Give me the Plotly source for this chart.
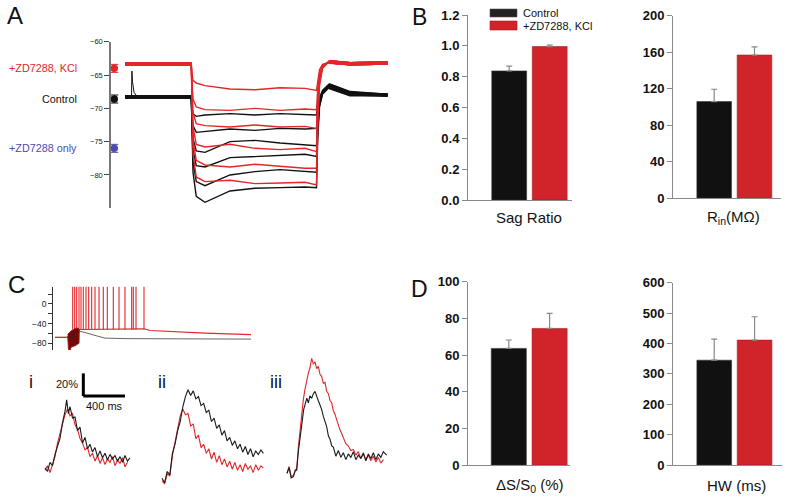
import plotly.graph_objects as go

W, H = 800, 497
FONT = "Arial, 'Liberation Sans', Helvetica, sans-serif"
RED = "#e2262a"
BAR_RED = "#d1232a"
BLUE = "#4b4bb0"
BLK = "#111111"

# ---------------- Panel A data (membrane potential, mV; time, ms) ----------------
A_t = [0, 265, 268, 272, 285, 320, 420, 520, 620, 720, 766, 771, 778, 790, 815, 900, 1050]
A_red = [
    [-63.3, -63.3, -64.8, -65.8, -66.2, -66.6, -67.1, -67.2, -66.9, -67.0, -67.3, -65.6, -64.2, -63.4, -63.1, -63.3, -63.2],
    [-63.3, -63.3, -66.0, -68.6, -69.8, -70.2, -70.3, -70.0, -70.3, -70.1, -70.2, -67.0, -64.8, -63.6, -63.0, -63.3, -63.2],
    [-63.3, -63.3, -66.8, -70.6, -72.3, -72.6, -72.8, -72.5, -72.8, -72.7, -73.0, -68.5, -65.3, -63.7, -63.0, -63.3, -63.2],
    [-63.3, -63.3, -67.6, -72.8, -75.4, -75.8, -75.4, -76.0, -76.2, -76.0, -76.5, -70.0, -65.8, -63.8, -63.0, -63.3, -63.2],
    [-63.3, -63.3, -68.3, -74.8, -77.8, -78.5, -78.8, -78.4, -78.7, -79.0, -79.0, -71.3, -66.2, -63.9, -63.0, -63.3, -63.2],
    [-63.3, -63.3, -69.0, -76.8, -80.3, -81.0, -80.8, -81.3, -81.2, -81.1, -81.5, -72.6, -66.6, -64.0, -63.0, -63.3, -63.2],
]
A_black = [
    [-68.3, -68.3, -69.8, -70.8, -71.2, -71.0, -70.8, -71.0, -70.8, -70.9, -71.0, -69.6, -68.4, -67.3, -66.4, -67.6, -68.0],
    [-68.3, -68.3, -70.4, -72.6, -73.6, -73.5, -73.1, -73.3, -73.0, -73.1, -73.0, -70.6, -68.8, -67.5, -66.5, -67.7, -68.0],
    [-68.3, -68.3, -71.0, -74.5, -76.4, -76.6, -75.0, -74.8, -75.2, -75.4, -75.6, -71.6, -69.0, -67.6, -66.6, -67.8, -68.0],
    [-68.3, -68.3, -71.6, -76.2, -78.6, -78.8, -77.4, -77.2, -77.0, -76.9, -77.2, -72.4, -69.2, -67.7, -66.7, -67.9, -68.0],
    [-68.3, -68.3, -72.2, -78.0, -81.0, -81.6, -80.0, -79.5, -79.2, -79.5, -79.6, -73.4, -69.5, -67.8, -66.8, -67.9, -68.0],
    [-68.3, -68.3, -72.8, -79.6, -83.2, -84.1, -82.4, -82.0, -81.9, -81.8, -81.9, -74.5, -69.8, -67.9, -66.9, -68.0, -68.0],
]
A_spike_t = [20, 26, 27.5, 30, 36, 50]
A_spike_v = [-68.3, -68.3, -64.4, -66.0, -67.6, -68.3]
A_rest_labels = ["+ZD7288, KCl", "Control", "+ZD7288 only"]
A_rest_mean = [-64.0, -68.6, -76.0]
A_rest_err = [0.6, 0.6, 0.6]
A_rest_colors = [RED, BLK, BLUE]
A_yticks = [-80, -75, -70, -65, -60]

# ---------------- Panel B / D data ----------------
groups = ["Control", "+ZD7288, KCl"]
sag_mean = [0.837, 0.995]
sag_err = [0.032, 0.01]
rin_mean = [106, 157]
rin_err = [13.5, 9]
dss_mean = [63.6, 74.5]
dss_err = [4.6, 8.2]
hw_mean = [345, 411]
hw_err = [69, 77]

# ---------------- Panel C data ----------------
C_black_t = [0, 125, 230, 300, 400, 500, 700, 1960]
C_black_v = [-68, -68, -55, -58, -64, -69.5, -70.5, -71.5]
C_red_t = [0, 125, 230, 300, 500, 700, 890, 950, 1200, 1500, 1960]
C_red_v = [-68, -68, -52, -52, -51, -51.5, -50.5, -54, -57, -59.5, -62.5]
C_spike_times = [177, 197, 217, 240, 260, 283, 310, 337, 367, 400, 440, 483, 523, 583, 640, 700, 767, 783, 810, 890]
C_spike_foot = -52
C_spike_peak = 37
C_stim_t = [127, 135, 150, 160, 200, 240, 243, 230, 200, 160, 127]
C_stim_v = [-65, -93, -95, -88, -85, -80, -52, -49, -50, -55, -62]

# fluorescence transients (time ms, dF %)
i_blk_t = [0, 24, 48, 72, 96, 120, 144, 168, 192, 208, 224, 240, 264, 288, 312, 336, 360, 384, 408, 432,
           456, 480, 504, 528, 552, 576, 600, 624, 648, 672, 696, 720, 744, 768, 792, 816]
i_blk_v = [0, -3, 5, 2, 12, 20, 26, 40, 50, 60, 48, 54, 44, 45, 33, 36, 22, 27, 17, 21,
           14, 18, 10, 15, 9, 13, 7, 12, 8, 11, 6, 10, 5, 11, 6, 9]
i_red_t = [0, 24, 48, 72, 96, 120, 144, 168, 192, 216, 240, 264, 288, 312, 336, 360, 384, 408, 432, 456,
           480, 504, 528, 552, 576, 600, 624, 648, 672, 696, 720, 744, 768, 792]
i_red_v = [-2, 2, -4, 4, 10, 22, 30, 40, 47, 52, 46, 48, 38, 34, 26, 22, 16, 18, 10, 13,
           6, 11, 4, 9, 3, 8, 5, 10, 2, 7, 4, 9, 1, 5]
ii_t = [0, 25, 50, 75, 100, 125, 150, 175, 200, 225, 250, 275, 300, 325, 350, 375, 400, 425, 450, 475,
        500, 525, 550, 575, 600, 625, 650, 675, 700, 725, 750, 775, 800, 825, 850, 875, 900, 925, 950, 973]
ii_blk_v = [0, -4, 6, 3, 22, 30, 42, 50, 63, 72, 78, 73, 77, 70, 72, 64, 66, 58, 60, 50,
            53, 44, 47, 38, 42, 33, 36, 29, 33, 26, 30, 23, 28, 21, 26, 19, 24, 21, 25, 22]
ii_red_v = [-2, -5, 4, 2, 20, 32, 44, 55, 61, 56, 57, 46, 48, 35, 38, 27, 30, 22, 26, 17,
            23, 14, 20, 12, 17, 10, 15, 8, 14, 7, 12, 6, 13, 8, 11, 5, 12, 7, 11, 9]
iii_blk_t = [0, 20, 40, 61, 80, 93, 110, 125, 145, 160, 175, 190, 205, 220, 237, 253, 269, 285, 300, 317,
             333, 349, 365, 381, 397, 413, 429, 445, 469, 493, 517, 541, 565, 589, 613, 637, 661, 685, 709, 733,
             757, 781, 805, 829, 853, 877, 901, 925, 957]
iii_blk_v = [0, 5, -4, -3, 3, 3, 20, 29, 45, 56, 60, 66, 62, 68, 66, 70, 72, 67, 64, 60,
             56, 50, 45, 41, 33, 30, 24, 23, 15, 20, 14, 18, 12, 17, 14, 19, 12, 16, 13, 18,
             11, 17, 13, 18, 12, 17, 14, 19, 16]
iii_red_t = [0, 20, 40, 61, 80, 93, 109, 125, 141, 157, 173, 189, 205, 221, 237, 253, 269, 285, 301, 317,
             333, 349, 365, 381, 397, 413, 429, 445, 461, 477, 493, 509, 525, 541, 565, 589, 613, 637, 661, 685,
             709, 733, 757, 781, 805, 829, 853, 877, 901, 925]
iii_red_v = [0, 6, -3, -2, 2, 3, 23, 38, 55, 65, 74, 82, 88, 93, 101, 96, 98, 92, 94, 87,
             85, 79, 80, 72, 70, 64, 62, 55, 52, 47, 42, 38, 35, 32, 26, 24, 20, 21, 16, 19,
             13, 17, 12, 16, 11, 15, 10, 14, 9, 12]
scale_t, scale_pct = 400, 20


def xdom(a, b):
    return [a / W, b / W]


def ydom(top, bot):
    return [1 - bot / H, 1 - top / H]


fig = go.Figure()

# ---- Panel A traces ----
for v in A_black:
    fig.add_trace(go.Scatter(x=A_t, y=v, mode="lines", line=dict(color=BLK, width=1.4),
                             xaxis="x", yaxis="y", hoverinfo="skip", showlegend=False))
    fig.add_trace(go.Scatter(x=A_t[:2], y=v[:2], mode="lines", line=dict(color=BLK, width=3),
                             xaxis="x", yaxis="y", hoverinfo="skip", showlegend=False))
    fig.add_trace(go.Scatter(x=A_t[-3:], y=v[-3:], mode="lines", line=dict(color=BLK, width=3),
                             xaxis="x", yaxis="y", hoverinfo="skip", showlegend=False))
fig.add_trace(go.Scatter(x=A_spike_t, y=A_spike_v, mode="lines", line=dict(color=BLK, width=1),
                         xaxis="x", yaxis="y", hoverinfo="skip", showlegend=False))
for v in A_red:
    fig.add_trace(go.Scatter(x=A_t, y=v, mode="lines", line=dict(color=RED, width=1.4),
                             xaxis="x", yaxis="y", hoverinfo="skip", showlegend=False))
    fig.add_trace(go.Scatter(x=A_t[:2], y=v[:2], mode="lines", line=dict(color=RED, width=3.5),
                             xaxis="x", yaxis="y", hoverinfo="skip", showlegend=False))
    fig.add_trace(go.Scatter(x=A_t[-3:], y=v[-3:], mode="lines", line=dict(color=RED, width=3.5),
                             xaxis="x", yaxis="y", hoverinfo="skip", showlegend=False))

DOT_T = -43
for m, e, c in zip(A_rest_mean, A_rest_err, A_rest_colors):
    fig.add_trace(go.Scatter(x=[DOT_T], y=[m], mode="markers",
                             marker=dict(color=c, size=7.5, symbol="circle"),
                             error_y=dict(type="data", array=[e], color=c, thickness=1, width=4),
                             xaxis="x", yaxis="y", hoverinfo="skip", showlegend=False))

# ---- Panel B & D bars ----
def bars(ax, mean, err):
    fig.add_trace(go.Bar(x=groups, y=mean, width=[0.86, 0.86],
                         marker=dict(color=[BLK, BAR_RED], line=dict(color=["#333", "#a81a20"], width=0.6)),
                         error_y=dict(type="data", array=err, arrayminus=[0, 0], symmetric=False,
                                      color="#888", thickness=1.2, width=3),
                         xaxis="x" + ax, yaxis="y" + ax, hoverinfo="skip", showlegend=False))

bars("2", sag_mean, sag_err)
bars("3", rin_mean, rin_err)
bars("8", dss_mean, dss_err)
bars("9", hw_mean, hw_err)

# ---- Panel C voltage ----
fig.add_trace(go.Scatter(x=C_black_t, y=C_black_v, mode="lines", line=dict(color="#666", width=1),
                         xaxis="x4", yaxis="y4", hoverinfo="skip", showlegend=False))
fig.add_trace(go.Scatter(x=C_red_t, y=C_red_v, mode="lines", line=dict(color=RED, width=1.2),
                         xaxis="x4", yaxis="y4", hoverinfo="skip", showlegend=False))
sx, sy = [], []
for t in C_spike_times:
    sx += [t, t, t, None]
    sy += [C_spike_foot, C_spike_peak, C_spike_foot, None]
fig.add_trace(go.Scatter(x=sx, y=sy, mode="lines", line=dict(color=RED, width=1.1),
                         xaxis="x4", yaxis="y4", hoverinfo="skip", showlegend=False))
fig.add_trace(go.Scatter(x=C_stim_t, y=C_stim_v, mode="lines", fill="toself",
                         fillcolor="#6a0c0c", line=dict(color="#b01a1a", width=1),
                         xaxis="x4", yaxis="y4", hoverinfo="skip", showlegend=False))

# ---- Panel C fluorescence ----
for ax, bt, bv, rt, rv in [("5", i_blk_t, i_blk_v, i_red_t, i_red_v),
                           ("6", ii_t, ii_blk_v, ii_t, ii_red_v),
                           ("7", iii_blk_t, iii_blk_v, iii_red_t, iii_red_v)]:
    fig.add_trace(go.Scatter(x=rt, y=rv, mode="lines", line=dict(color=RED, width=1.1),
                             xaxis="x" + ax, yaxis="y" + ax, hoverinfo="skip", showlegend=False))
    fig.add_trace(go.Scatter(x=bt, y=bv, mode="lines", line=dict(color="#1a1a1a", width=1.1),
                             xaxis="x" + ax, yaxis="y" + ax, hoverinfo="skip", showlegend=False))

hidden = dict(visible=False, fixedrange=True)
bar_y = dict(showline=True, linecolor="#8a8a8a", linewidth=1, ticks="outside", ticklen=5,
             tickcolor="#8a8a8a", showgrid=False, zeroline=False,
             tickfont=dict(family=FONT, size=13, color="#111", weight="bold"), fixedrange=True)
bar_x = dict(showline=True, linecolor="#8a8a8a", linewidth=1, showticklabels=False, ticks="",
             showgrid=False, zeroline=False, fixedrange=True)

layout = dict(
    template="none",
    width=W, height=H, autosize=False,
    margin=dict(l=0, r=0, t=0, b=0),
    paper_bgcolor="white", plot_bgcolor="rgba(0,0,0,0)",
    font=dict(family=FONT, color="#111"),
    showlegend=False,
    # A
    xaxis=dict(domain=xdom(111, 390), range=[-56, 1060], **hidden),
    yaxis=dict(domain=ydom(41.7, 208.3), range=[-85, -60], tickvals=A_yticks,
               showline=True, linecolor="#777", linewidth=1.5, ticks="outside", ticklen=5,
               tickcolor="#444", showgrid=False, zeroline=False,
               tickfont=dict(family=FONT, size=7.5, color="#222"), fixedrange=True),
    # B
    xaxis2=dict(domain=xdom(468, 572), range=[-1.017, 1.55], anchor="y2", **bar_x),
    yaxis2=dict(domain=ydom(15, 200), range=[0, 1.2], dtick=0.2, tickformat=".1f", anchor="x2", **bar_y),
    xaxis3=dict(domain=xdom(673, 781), range=[-1.022, 1.658], anchor="y3", **bar_x),
    yaxis3=dict(domain=ydom(15.8, 198.3), range=[0, 200], dtick=40, anchor="x3", **bar_y),
    # D
    xaxis8=dict(domain=xdom(468, 570), range=[-1.0, 1.5], anchor="y8", **bar_x),
    yaxis8=dict(domain=ydom(281.7, 465), range=[0, 100], dtick=20, anchor="x8", **bar_y),
    xaxis9=dict(domain=xdom(673, 782), range=[-1.022, 1.68], anchor="y9", **bar_x),
    yaxis9=dict(domain=ydom(282.7, 465), range=[0, 600], dtick=100, anchor="x9", **bar_y),
    # C voltage
    xaxis4=dict(domain=xdom(53.3, 253), range=[-17, 1980], anchor="y4", **hidden),
    yaxis4=dict(domain=ydom(286.7, 350), range=[-93.7, 35.2], anchor="x4",
                tickvals=[-80, -40, 0],
                minor=dict(tickvals=[-60, -20, 20], ticks="outside", ticklen=4, tickcolor="#333"),
                showline=True, linecolor="#333", linewidth=1.2, ticks="outside", ticklen=4,
                tickcolor="#333", showgrid=False, zeroline=False,
                tickfont=dict(family=FONT, size=8.5, color="#222"), fixedrange=True),
    # C fluorescence
    xaxis5=dict(domain=xdom(40, 140), range=[-48, 912], anchor="y5", **hidden),
    yaxis5=dict(domain=ydom(355, 485), range=[-15.0, 99.6], anchor="x5", **hidden),
    xaxis6=dict(domain=xdom(157, 270), range=[-48, 1037], anchor="y6", **hidden),
    yaxis6=dict(domain=ydom(355, 485), range=[-5.9, 108.6], anchor="x6", **hidden),
    xaxis7=dict(domain=xdom(282, 395), range=[-48, 1037], anchor="y7", **hidden),
    yaxis7=dict(domain=ydom(355, 485), range=[-10.3, 104.0], anchor="x7", **hidden),
)
fig.update_layout(**layout)

# scale bar in panel C-i data units
SB_T0, SB_V0 = 368, 63.4
fig.add_shape(type="line", xref="x5", yref="y5", x0=SB_T0, x1=SB_T0, y0=SB_V0, y1=SB_V0 + scale_pct,
              line=dict(color="black", width=3))
fig.add_shape(type="line", xref="x5", yref="y5", x0=SB_T0, x1=SB_T0 + scale_t, y0=SB_V0, y1=SB_V0,
              line=dict(color="black", width=3))

# legend swatches (panel B)
fig.add_shape(type="rect", xref="paper", yref="paper", x0=490 / W, x1=517 / W, y0=1 - 17 / H, y1=1 - 9 / H,
              fillcolor="#222", line=dict(color="#555", width=0.6))
fig.add_shape(type="rect", xref="paper", yref="paper", x0=490 / W, x1=517 / W, y0=1 - 30 / H, y1=1 - 21 / H,
              fillcolor=BAR_RED, line=dict(color="#a81a20", width=0.6))


def ann(text, x, y, size, color="#111", xanchor="center", **kw):
    fig.add_annotation(text=text, x=x / W, y=1 - y / H, xref="paper", yref="paper",
                       showarrow=False, xanchor=xanchor, yanchor="middle",
                       font=dict(family=FONT, size=size, color=color), **kw)


ann("A", 15, 16, 24)
ann("B", 419, 17, 23)
ann("C", 16, 284, 24)
ann("D", 419, 289, 23)

ann(groups[0], 521, 13, 11, xanchor="left")
ann(groups[1], 521, 25.5, 11, xanchor="left")

ann("Sag Ratio", 529, 217, 15)
ann("R<sub>in</sub>(MΩ)", 733, 217, 15)
ann("ΔS/S<sub>0</sub> (%)", 530, 485, 15)
ann("HW (ms)", 736, 485, 15)

for lab, m, c in zip(A_rest_labels, A_rest_mean, A_rest_colors):
    fig.add_annotation(text=lab, x=78.5 / W, y=m, xref="paper", yref="y", showarrow=False,
                       xanchor="right", yanchor="middle", font=dict(family=FONT, size=10.8, color=c))

ann("i", 30.5, 382, 18)
ann("ii", 162, 382, 18)
ann("iii", 276, 382, 18)
ann("20%", 67, 384, 11)
ann("400 ms", 104, 406, 11)

fig.write_html("out.html", config={"displayModeBar": False},
               post_script="document.body.style.margin='0';document.body.style.overflow='hidden';")
